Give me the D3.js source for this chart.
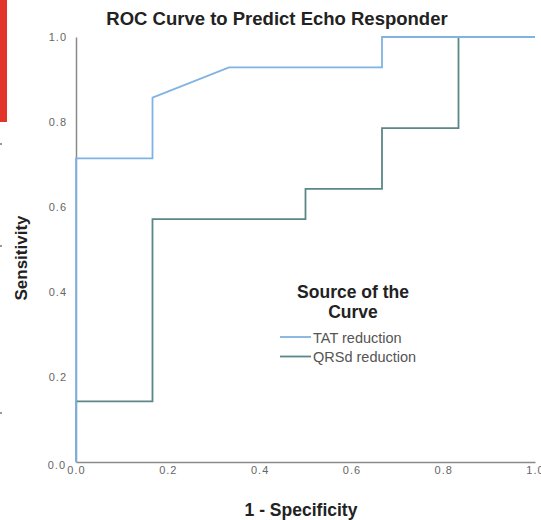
<!DOCTYPE html>
<html>
<head>
<meta charset="utf-8">
<script src="https://cdn.jsdelivr.net/npm/d3@7/dist/d3.min.js"></script>
<style>
  html, body { margin: 0; padding: 0; background: #fff; }
  svg { display: block; }
  text { font-family: "Liberation Sans", Arial, sans-serif; }
</style>
</head>
<body>
<svg id="chart" width="541" height="520"></svg>
<script>
// ROC coordinates (1 - specificity, sensitivity) for each predictor
const seriesNames = ["TAT reduction", "QRSd reduction"];
const seriesColors = ["#7fb3e3", "#5b8787"];
const tatFpr  = [0, 0, 1/6, 1/6, 2/6, 4/6, 4/6, 1];
const tatTpr  = [0, 5/7, 5/7, 6/7, 13/14, 13/14, 1, 1];
const qrsFpr  = [0, 0, 1/6, 1/6, 3/6, 3/6, 4/6, 4/6, 5/6, 5/6, 1];
const qrsTpr  = [0, 1/7, 1/7, 4/7, 4/7, 9/14, 9/14, 11/14, 11/14, 1, 1];
const xTicks = [0, 0.2, 0.4, 0.6, 0.8, 1.0];
const yTicks = [0, 0.2, 0.4, 0.6, 0.8, 1.0];

const svg = d3.select("#chart");
const plot = { left: 76, right: 535, top: 37, bottom: 462 };

const x = d3.scaleLinear().domain([0, 1]).range([plot.left, plot.right]);
const y = d3.scaleLinear().domain([0, 1]).range([plot.bottom, plot.top]);

// side marker strip
svg.append("rect").attr("x", 0).attr("y", 0).attr("width", 7).attr("height", 122)
  .attr("fill", "#e3342a");
[143, 245, 412].forEach(v => svg.append("rect").attr("x", 0).attr("y", v)
  .attr("width", 2).attr("height", 2).attr("fill", "#999"));

// axes
const axisColor = "#8a8a8a";
const xAxis = svg.append("g").attr("transform", `translate(0,${plot.bottom})`)
  .call(d3.axisBottom(x).tickValues(xTicks).tickFormat(d3.format(".1f")).tickSize(0).tickPadding(8));
const yAxis = svg.append("g").attr("transform", `translate(${plot.left},0)`)
  .call(d3.axisLeft(y).tickValues(yTicks).tickFormat(d3.format(".1f")).tickSize(0).tickPadding(9));
[xAxis, yAxis].forEach(g => {
  g.select(".domain").attr("stroke", axisColor).attr("stroke-width", 1.5);
  g.selectAll("text").attr("fill", "#666").attr("font-size", 11)
    .attr("letter-spacing", 1)
    .attr("font-family", "'Liberation Sans', Arial, sans-serif");
});
xAxis.selectAll("text").attr("dy", "0.35em");
// the zero label on the vertical axis sits lower and further left
yAxis.selectAll(".tick").filter(d => d === 0).select("text")
  .attr("dy", "0.6em").attr("x", -10);

// curves
const line = d3.line().x(d => x(d[0])).y(d => y(d[1]));
const curves = [d3.zip(tatFpr, tatTpr), d3.zip(qrsFpr, qrsTpr)];
// draw QRSd first so TAT sits on top where they overlap
[1, 0].forEach(i => {
  svg.append("path").datum(curves[i]).attr("d", line)
    .attr("fill", "none").attr("stroke", seriesColors[i]).attr("stroke-width", 1.8);
});

// titles
svg.append("text").attr("x", 277).attr("y", 25).attr("text-anchor", "middle")
  .attr("font-size", 18.5).attr("font-weight", "bold").attr("fill", "#222")
  .text("ROC Curve to Predict Echo Responder");
svg.append("text").attr("x", 301).attr("y", 516).attr("text-anchor", "middle")
  .attr("font-size", 17.5).attr("font-weight", "bold").attr("fill", "#222")
  .text("1 - Specificity");
svg.append("text").attr("transform", "translate(27,258) rotate(-90)").attr("text-anchor", "middle")
  .attr("font-size", 17).attr("font-weight", "bold").attr("fill", "#222")
  .text("Sensitivity");

// legend
const lg = svg.append("g");
lg.append("text").attr("x", 353).attr("y", 298).attr("text-anchor", "middle")
  .attr("font-size", 17.5).attr("font-weight", "bold").attr("fill", "#222").text("Source of the");
lg.append("text").attr("x", 353).attr("y", 318).attr("text-anchor", "middle")
  .attr("font-size", 17.5).attr("font-weight", "bold").attr("fill", "#222").text("Curve");
seriesNames.forEach((name, i) => {
  const yy = 337 + i * 19.5;
  lg.append("line").attr("x1", 280).attr("x2", 311).attr("y1", yy).attr("y2", yy)
    .attr("stroke", seriesColors[i]).attr("stroke-width", 1.8);
  lg.append("text").attr("x", 313).attr("y", yy + 5.5).attr("font-size", 14.5)
    .attr("fill", "#555").text(name);
});
</script>
</body>
</html>
